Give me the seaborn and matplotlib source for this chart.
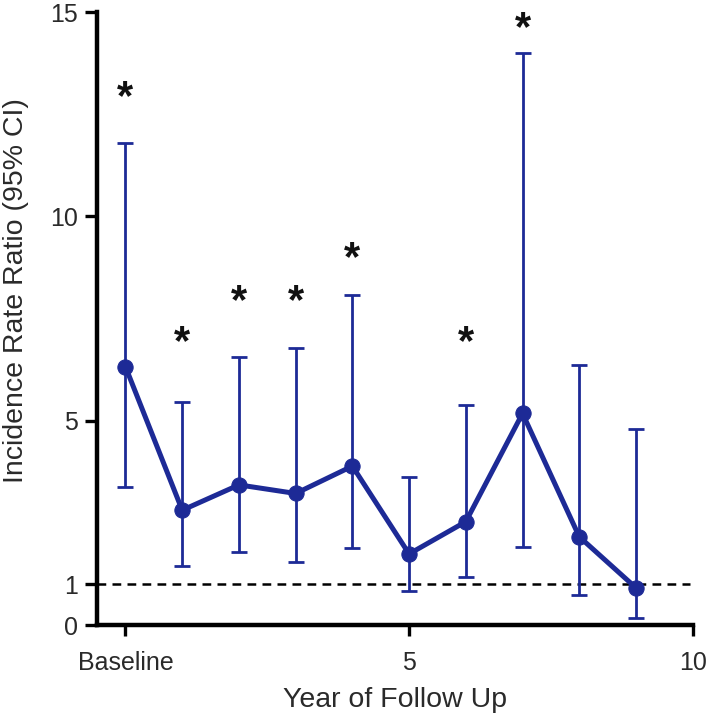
import numpy as np
import pandas as pd
import matplotlib
matplotlib.use("Agg")
import matplotlib.pyplot as plt
import seaborn as sns

# Data
years = [0, 1, 2, 3, 4, 5, 6, 7, 8, 9]
irr = [6.32, 2.81, 3.43, 3.22, 3.89, 1.74, 2.53, 5.18, 2.16, 0.91]
ci_low = [3.37, 1.44, 1.79, 1.54, 1.88, 0.84, 1.18, 1.92, 0.73, 0.16]
ci_high = [11.79, 5.45, 6.57, 6.77, 8.09, 3.63, 5.38, 13.99, 6.36, 4.81]
sig_years = [0, 1, 2, 3, 4, 6, 7]
sig_y = [13.1, 7.1, 8.1, 8.1, 9.15, 7.1, 14.8]
xtick_vals = [0, 5, 10]
xtick_labels = ["Baseline", "5", "10"]
ytick_vals = [0, 1, 5, 10, 15]

sns.set_style("white")
plt.rcParams["font.family"] = ["Liberation Sans", "DejaVu Sans"]

color = "#1d2a96"
df = pd.DataFrame({"year": years, "irr": irr, "lo": ci_low, "hi": ci_high})

fig = plt.figure(figsize=(7.09, 7.18), dpi=100)
ax = fig.add_axes([0.137, 0.1295, 0.840, 0.8535])

ax.axhline(1, xmin=0, xmax=0.995, color="black", lw=1.8, ls=(0, (3.5, 2.5)), zorder=1)

yerr = np.array([df["irr"] - df["lo"], df["hi"] - df["irr"]])
ax.errorbar(df["year"], df["irr"], yerr=yerr, fmt="none", ecolor=color,
            elinewidth=2.0, capsize=5.5, capthick=2.0, zorder=2)
sns.lineplot(data=df, x="year", y="irr", color=color, lw=3.6, marker="o",
             markersize=11, markeredgecolor=color, ax=ax, zorder=3)

for xs, ys in zip(sig_years, sig_y):
    ax.annotate("*", xy=(xs, ys), xytext=(0, -6), textcoords="offset points",
                ha="center", va="center", fontsize=30, fontweight="bold",
                color="#111111")

ax.set_xlim(-0.5, 10)
ax.set_ylim(0, 15)
ax.set_xticks(xtick_vals)
ax.set_xticklabels(xtick_labels)
ax.set_yticks(ytick_vals)
ax.tick_params(axis="both", which="both", direction="out", length=9, width=2.4,
               labelsize=18, color="black", labelcolor="#2a2a2a", pad=5,
               bottom=True, left=True)
ax.tick_params(axis="x", length=8, pad=11)
for side in ["top", "right"]:
    ax.spines[side].set_visible(False)
for side in ["left", "bottom"]:
    ax.spines[side].set_linewidth(3.2)
    ax.spines[side].set_color("black")

ax.set_xlabel("Year of Follow Up", fontsize=20.5, color="#2a2a2a", labelpad=8)
ax.set_ylabel("Incidence Rate Ratio (95% CI)", fontsize=20.5, color="#2a2a2a")
ax.yaxis.set_label_coords(-0.115, 0.545)

fig.savefig("out.png", dpi=100)
